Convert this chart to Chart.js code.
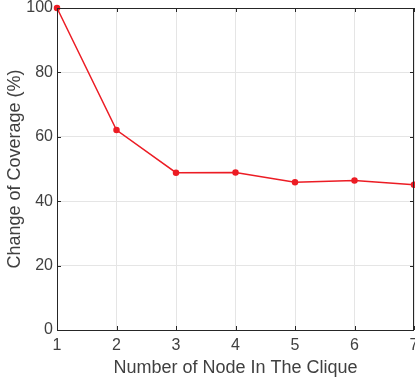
<!DOCTYPE html>
<html lang="en">

<head>
  <meta charset="UTF-8">
  <title>Change of Coverage</title>
  <style>
    html, body { margin: 0; padding: 0; background: #fff; overflow: hidden; }
    .box { width: 415px; height: 382px; }
  </style>
</head>

<body>
  <div class="box">
    <canvas id="lineChart"></canvas>
  </div>

  <script src="https://cdn.jsdelivr.net/npm/chart.js"></script>

  <script>
    // dados
    const nodeCounts = [1, 2, 3, 4, 5, 6, 7];
    const coverage = [100, 62.1, 48.85, 48.9, 45.9, 46.4, 45.1];
    const yTicks = [0, 20, 40, 60, 80, 100];

    const axisColor = '#262626';
    const textColor = '#404040';
    const fontFamily = 'Liberation Sans, Arial, sans-serif';

    // caixa e marcas de escala para dentro (estilo matlab)
    const boxPlugin = {
      id: 'boxPlugin',
      afterDraw(chart) {
        const { ctx, chartArea: a, scales } = chart;
        ctx.save();
        ctx.strokeStyle = axisColor;
        ctx.lineWidth = 1;
        ctx.beginPath();
        nodeCounts.forEach(v => {
          const x = Math.round(scales.x.getPixelForValue(v)) + 0.5;
          ctx.moveTo(x, a.bottom); ctx.lineTo(x, a.bottom - 4);
          ctx.moveTo(x, a.top); ctx.lineTo(x, a.top + 4);
        });
        yTicks.forEach(v => {
          const y = Math.round(scales.y.getPixelForValue(v)) + 0.5;
          ctx.moveTo(a.left, y); ctx.lineTo(a.left + 4, y);
          ctx.moveTo(a.right, y); ctx.lineTo(a.right - 4, y);
        });
        ctx.stroke();
        ctx.strokeRect(Math.round(a.left) + 0.5, Math.round(a.top) + 0.5,
          Math.round(a.right - a.left) - 1, Math.round(a.bottom - a.top));
        ctx.restore();
      }
    };

    new Chart(document.getElementById('lineChart'), {
      type: 'line',
      data: {
        datasets: [{
          data: nodeCounts.map((n, i) => ({ x: n, y: coverage[i] })),
          borderColor: '#ec1c24',
          backgroundColor: '#ec1c24',
          borderWidth: 1.5,
          pointRadius: 2.5,
          pointHoverRadius: 2.5,
          tension: 0,
          clip: false
        }]
      },
      options: {
        responsive: true,
        maintainAspectRatio: false,
        animation: false,
        events: [],
        layout: { autoPadding: false, padding: { top: 8, right: 1, left: 0, bottom: 0 } },
        plugins: { legend: { display: false }, tooltip: { enabled: false } },
        scales: {
          x: {
            type: 'linear',
            min: 1,
            max: 7,
            afterFit(s) { s.height = 52; s.paddingLeft = 0; s.paddingRight = 0; },
            afterBuildTicks(s) { s.ticks = nodeCounts.map(v => ({ value: v })); },
            grid: { color: '#e5e5e5', drawTicks: false },
            border: { display: false },
            ticks: {
              padding: 6,
              maxRotation: 0,
              autoSkip: false,
              color: textColor,
              font: { family: fontFamily, size: 16 }
            },
            title: {
              display: true,
              text: 'Number of Node In The Clique',
              color: textColor,
              padding: { top: 0, bottom: 3 },
              font: { family: fontFamily, size: 18 }
            }
          },
          y: {
            min: 0,
            max: 100,
            afterFit(s) { s.width = 57; s.paddingTop = 0; s.paddingBottom = 0; },
            afterBuildTicks(s) { s.ticks = yTicks.map(v => ({ value: v })); },
            grid: { color: '#e5e5e5', drawTicks: false },
            border: { display: false },
            ticks: {
              padding: 4,
              color: textColor,
              font: { family: fontFamily, size: 16 }
            },
            title: {
              display: true,
              text: 'Change of Coverage (%)',
              color: textColor,
              padding: { top: 4, bottom: 0 },
              font: { family: fontFamily, size: 18 }
            }
          }
        }
      },
      plugins: [boxPlugin]
    });
  </script>
</body>

</html>
